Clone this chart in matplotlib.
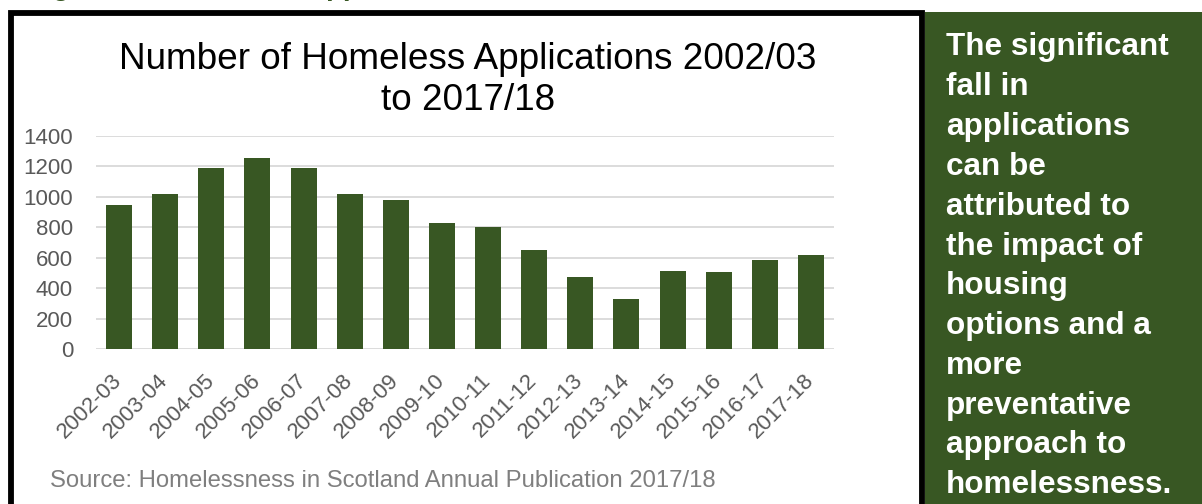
import matplotlib
matplotlib.use("Agg")
import matplotlib.pyplot as plt
from matplotlib.patches import Rectangle

# ---- data ----
years = ["2002-03", "2003-04", "2004-05", "2005-06", "2006-07", "2007-08",
         "2008-09", "2009-10", "2010-11", "2011-12", "2012-13", "2013-14",
         "2014-15", "2015-16", "2016-17", "2017-18"]
applications = [950, 1018, 1188, 1253, 1188, 1020, 977, 826, 805, 652,
                474, 328, 516, 507, 588, 618]
y_ticks = [0, 200, 400, 600, 800, 1000, 1200, 1400]
title_text = "Number of Homeless Applications 2002/03\nto 2017/18"
source_text = "Source: Homelessness in Scotland Annual Publication 2017/18"
side_lines = ["The significant", "fall in", "applications", "can be",
              "attributed to", "the impact of", "housing",
              "options and a", "more", "preventative", "approach to",
              "homelessness."]
heading_text = "Figure 12: Homeless Applications"

GREEN = "#385723"
GRID = "#D9D9D9"
TICK = "#595959"

plt.rcParams['font.family'] = ['Liberation Sans', 'DejaVu Sans']

W, H = 1202, 504
fig = plt.figure(figsize=(W / 100, H / 100), dpi=100)

# background canvas in pixel coordinates
bg = fig.add_axes([0, 0, 1, 1], zorder=0)
bg.set_xlim(0, W)
bg.set_ylim(H, 0)
bg.axis("off")

bg.add_patch(Rectangle((11, 12.5), 911, 520, facecolor="white",
                       edgecolor="black", linewidth=4.2, clip_on=False))
bg.add_patch(Rectangle((925, 12), 300, 520, facecolor=GREEN,
                       edgecolor="none", clip_on=False))

# heading cut off at the top of the picture (only descenders visible)
bg.text(28, -5, heading_text, color=GREEN, fontsize=20, fontweight="bold",
        ha="left", va="baseline", clip_on=False)

# chart title
bg.text(468, 80, title_text, fontsize=26.6, color="black",
        ha="center", va="center", linespacing=1.2)

# source
bg.text(50, 481, source_text, fontsize=17.2, color="#7F7F7F",
        ha="left", va="center")

# side text
for i, line in enumerate(side_lines):
    bg.text(946, 47.5 + i * 39.8, line, fontsize=22.7, fontweight="bold",
            color="white", ha="left", va="center")

# chart axes
left, right = 96, 834
top, bottom = 136, 349.3
ax = fig.add_axes([left / W, (H - bottom) / H, (right - left) / W,
                   (bottom - top) / H], zorder=1)
ax.patch.set_alpha(0)
x = list(range(len(years)))
ax.bar(x, applications, width=0.565, color=GREEN, zorder=3)
ax.set_xlim(-0.5, len(years) - 0.5)
ax.set_ylim(0, 1400)
ax.set_yticks(y_ticks)
ax.set_yticklabels([str(v) for v in y_ticks])
ax.yaxis.grid(True, color=GRID, linewidth=1.3, zorder=0)
ax.set_axisbelow(True)
for s in ax.spines.values():
    s.set_visible(False)
ax.tick_params(axis="y", length=0, pad=16.5, labelsize=16, labelcolor=TICK)
ax.tick_params(axis="x", length=0, pad=20, labelsize=16, labelcolor=TICK)
ax.set_xticks(x)
ax.set_xticklabels(years, rotation=45, ha="right", va="center",
                   rotation_mode="anchor")

fig.savefig("out.png", dpi=100)
